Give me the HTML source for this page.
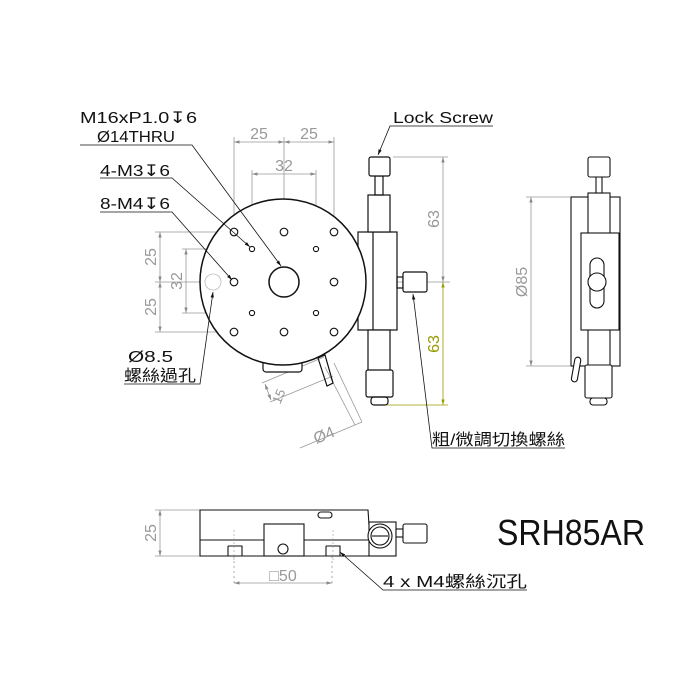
<!DOCTYPE html>
<html><head><meta charset="utf-8"><style>
html,body{margin:0;padding:0;background:#fff}
svg{display:block}
text{font-family:"Liberation Sans","Noto Sans CJK TC",sans-serif}
</style></head><body>
<svg width="700" height="700" viewBox="0 0 700 700" xmlns="http://www.w3.org/2000/svg">
<defs>
<marker id="a" viewBox="0 0 10 10" refX="10" refY="5" markerWidth="7" markerHeight="7" orient="auto-start-reverse"><path d="M0,2 L10,5 L0,8z" fill="#888"/></marker>
<marker id="b" viewBox="0 0 10 10" refX="10" refY="5" markerWidth="7" markerHeight="7" orient="auto-start-reverse"><path d="M0,2 L10,5 L0,8z" fill="#111"/></marker>
<marker id="y" viewBox="0 0 10 10" refX="10" refY="5" markerWidth="7" markerHeight="7" orient="auto-start-reverse"><path d="M0,2 L10,5 L0,8z" fill="#9a9a00"/></marker>
</defs>
<g fill="none" stroke="#999" stroke-width="0.8">
<line x1="234" y1="137" x2="234" y2="228"/><line x1="334" y1="137" x2="334" y2="228"/><line x1="284" y1="137" x2="284" y2="300"/>
<line x1="234" y1="142" x2="284" y2="142" marker-start="url(#a)" marker-end="url(#a)"/>
<line x1="284" y1="142" x2="334" y2="142" marker-start="url(#a)" marker-end="url(#a)"/>
<line x1="252" y1="170" x2="252" y2="246"/><line x1="316" y1="170" x2="316" y2="246"/>
<line x1="252" y1="174" x2="316" y2="174" marker-start="url(#a)" marker-end="url(#a)"/>
<line x1="155" y1="232" x2="230" y2="232"/><line x1="155" y1="332" x2="230" y2="332"/><line x1="155" y1="282" x2="230" y2="282"/>
<line x1="160" y1="232" x2="160" y2="282" marker-start="url(#a)" marker-end="url(#a)"/>
<line x1="160" y1="282" x2="160" y2="332" marker-start="url(#a)" marker-end="url(#a)"/>
<line x1="182" y1="249" x2="249" y2="249"/><line x1="182" y1="313" x2="249" y2="313"/>
<line x1="186" y1="249" x2="186" y2="313" marker-start="url(#a)" marker-end="url(#a)"/>
<line x1="284" y1="282" x2="450" y2="282"/>
<line x1="393" y1="157" x2="448" y2="157"/>
<line x1="443" y1="157" x2="443" y2="282" marker-start="url(#a)" marker-end="url(#a)"/>
<line x1="526" y1="197" x2="570" y2="197"/><line x1="526" y1="366" x2="570" y2="366"/>
<line x1="531" y1="197" x2="531" y2="366" marker-start="url(#a)" marker-end="url(#a)"/>
<line x1="262" y1="383" x2="324" y2="357"/><line x1="270" y1="402" x2="333" y2="376"/>
<line x1="265" y1="384" x2="271" y2="400" marker-start="url(#a)" marker-end="url(#a)"/>
<line x1="325" y1="367" x2="355" y2="425"/><line x1="334" y1="363" x2="362" y2="422"/>
<line x1="300" y1="448" x2="362" y2="422"/>
<line x1="155" y1="510" x2="200" y2="510"/><line x1="155" y1="556" x2="200" y2="556"/>
<line x1="160" y1="510" x2="160" y2="556" marker-start="url(#a)" marker-end="url(#a)"/>
<line x1="234" y1="556" x2="234" y2="586" stroke-dasharray="2,3"/><line x1="332" y1="556" x2="332" y2="586" stroke-dasharray="2,3"/>
<line x1="234" y1="583" x2="332" y2="583" marker-start="url(#a)" marker-end="url(#a)"/>
</g>
<line x1="443" y1="282" x2="443" y2="405" stroke="#9a9a00" stroke-width="0.8" marker-start="url(#y)" marker-end="url(#y)"/>
<line x1="380" y1="405" x2="448" y2="405" stroke="#9a9a00" stroke-width="0.8"/>

<g fill="none" stroke="#111" stroke-width="1.2">
<rect x="263" y="360" width="39" height="12" rx="3" fill="#fff"/>
<rect x="358" y="232" width="39" height="98" fill="#fff"/>
<line x1="373" y1="232" x2="373" y2="330"/>
<rect x="368" y="195" width="22" height="37" fill="#fff"/>
<rect x="375" y="176" width="8" height="19"/>
<rect x="369" y="157" width="21" height="19" rx="2" fill="#fff"/>
<rect x="368" y="330" width="22" height="42" fill="#fff"/>
<rect x="366" y="370" width="27" height="27" rx="2" fill="#fff"/>
<rect x="371" y="397" width="17" height="8" rx="3"/>
<rect x="397" y="277" width="6" height="11"/>
<rect x="403" y="272" width="24" height="20" rx="2" fill="#fff"/>
<circle cx="283" cy="282" r="83" fill="#fff" stroke-width="1.5"/>
<circle cx="284" cy="282" r="15" stroke-width="1.5"/>
<path d="M318,358 L325,355 L333,383 L327,386z"/>
</g>
<g fill="#fff" stroke="#111" stroke-width="1.1">
<circle cx="234" cy="232" r="3.8"/><circle cx="284" cy="232" r="3.8"/><circle cx="334" cy="232" r="3.8"/>
<circle cx="234" cy="282" r="3.8"/><circle cx="334" cy="282" r="3.8"/>
<circle cx="234" cy="332" r="3.8"/><circle cx="284" cy="332" r="3.8"/><circle cx="334" cy="332" r="3.8"/>
<circle cx="252" cy="249" r="2.6"/><circle cx="316" cy="249" r="2.6"/><circle cx="252" cy="313" r="2.6"/><circle cx="316" cy="313" r="2.6"/>
</g>
<circle cx="213" cy="282" r="8" fill="none" stroke="#bbb" stroke-width="0.8"/>

<g fill="#fff" stroke="#111" stroke-width="1.1">
<rect x="571" y="197" width="49" height="169"/>
<rect x="588" y="193" width="22" height="180"/>
<rect x="596" y="177" width="6" height="16"/>
<rect x="588" y="157" width="22" height="20" rx="2"/>
<rect x="581" y="233" width="38" height="97"/>
<rect x="590" y="258" width="14" height="50" rx="7"/>
<circle cx="597" cy="282" r="9"/>
<rect x="585" y="365" width="27" height="33" rx="2"/>
<rect x="590" y="398" width="17" height="7" rx="3"/>
<rect x="573" y="357" width="6" height="25" rx="3" transform="rotate(10 576 370)"/>
</g>

<g fill="#fff" stroke="#111" stroke-width="1.1">
<path d="M200,510 H368 L370,540 V556 H200z"/>
<line x1="200" y1="540" x2="370" y2="540"/>
<rect x="264" y="524" width="40" height="32"/>
<circle cx="283" cy="549" r="5"/>
<path d="M222,540 h26 M228,546 h14 v10 M228,546 v10"/>
<path d="M320,540 h26 M326,546 h14 v10 M326,546 v10"/>
<rect x="318" y="512" width="14" height="6" rx="3"/>
<rect x="369" y="522" width="27" height="34"/>
<circle cx="380" cy="536" r="12"/><circle cx="380" cy="536" r="9"/>
<line x1="372" y1="536" x2="388" y2="536"/>
<rect x="396" y="529" width="7" height="8"/>
<rect x="403" y="524" width="24" height="19" rx="2"/>
</g>
<g stroke="#999" stroke-width="0.6" stroke-dasharray="2,2"><line x1="234" y1="530" x2="234" y2="560"/><line x1="333" y1="530" x2="333" y2="560"/></g>

<g fill="none" stroke="#111" stroke-width="0.8">
<polyline points="80,145 192,145 281,266" marker-end="url(#b)"/>
<polyline points="100,178 172,178 250,247" marker-end="url(#b)"/>
<polyline points="100,212 172,212 232,280" marker-end="url(#b)"/>
<polyline points="124,384 200,384 213,292" marker-end="url(#b)"/>
<polyline points="493,126 390,126 378,155" marker-end="url(#b)"/>
<polyline points="565,448 432,448 413,294" marker-end="url(#b)"/>
<polyline points="527,590 383,590 340,552" marker-end="url(#b)"/>
</g>

<g fill="#111" font-size="16">
<text x="80" y="123" textLength="117" lengthAdjust="spacingAndGlyphs">M16xP1.0↧6</text>
<text x="97" y="142" textLength="78" lengthAdjust="spacingAndGlyphs">Ø14THRU</text>
<text x="100" y="176" textLength="70" lengthAdjust="spacingAndGlyphs">4-M3↧6</text>
<text x="100" y="209" textLength="70" lengthAdjust="spacingAndGlyphs">8-M4↧6</text>
<text x="128" y="362" textLength="45" lengthAdjust="spacingAndGlyphs">Ø8.5</text>
<text x="124" y="381" textLength="72" lengthAdjust="spacingAndGlyphs">螺絲過孔</text>
<text x="393" y="123" textLength="100" lengthAdjust="spacingAndGlyphs">Lock Screw</text>
<text x="432" y="445" textLength="133" lengthAdjust="spacingAndGlyphs">粗/微調切換螺絲</text>
<text x="383" y="587" textLength="144" lengthAdjust="spacingAndGlyphs">4 x M4螺絲沉孔</text>
<text x="497" y="545" font-size="36" textLength="148" lengthAdjust="spacingAndGlyphs">SRH85AR</text>
</g>
<g fill="#999" font-size="16" text-anchor="middle">
<text x="259" y="139">25</text><text x="309" y="139">25</text><text x="284" y="171">32</text>
<text x="156" y="257" transform="rotate(-90 156 257)">25</text>
<text x="156" y="307" transform="rotate(-90 156 307)">25</text>
<text x="182" y="281" transform="rotate(-90 182 281)">32</text>
<text x="439" y="219" transform="rotate(-90 439 219)">63</text>
<text x="527" y="282" transform="rotate(-90 527 282)">Ø85</text>
<text x="156" y="533" transform="rotate(-90 156 533)">25</text>
<text x="283" y="581">□50</text>
<text x="283" y="398" transform="rotate(-68 283 398)" font-size="13">15</text>
<text x="326" y="440" transform="rotate(-22 326 440)">Ø4</text>
</g>
<text x="439" y="344" transform="rotate(-90 439 344)" fill="#9a9a00" font-size="16" text-anchor="middle" font-family="Liberation Sans">63</text>
</svg>
</body></html>
